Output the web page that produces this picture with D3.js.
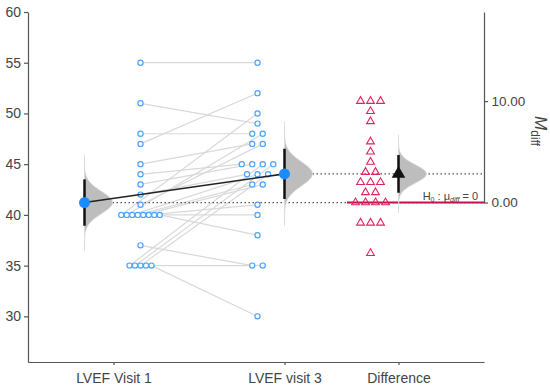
<!DOCTYPE html>
<html>
<head>
<meta charset="utf-8">
<script src="https://cdn.jsdelivr.net/npm/d3@7"></script>
<style>
  body { margin: 0; background: #fff; }
  svg { display: block; font-family: "Liberation Sans", Arial, sans-serif; }
  .axis path, .axis line { stroke: #555; stroke-width: 1.2; }
  .axis text { fill: #444; font-size: 14px; }
</style>
</head>
<body>
<div id="chart"></div>
<script>
// paired LVEF readings, same patient at the same index
const categories = ["LVEF Visit 1", "LVEF visit 3", "Difference"];
const visit1 = [55, 51, 48, 47, 45, 44, 43, 42, 41, 40, 40, 40, 40, 40, 40, 40, 40, 37, 35, 35, 35, 35, 35];
const visit3 = [55, 49, 48, 52, 47, 45, 45, 44, 47, 50, 48, 44, 43, 43, 41, 40, 38, 35, 45, 45, 44, 35, 30];
const yTicks = [30, 35, 40, 45, 50, 55, 60];
const diffTicks = [0, 10];
const tCrit = 2.074; // t(0.975, df = 22)

const width = 550;
const height = 387;

const svg = d3.select("#chart")
    .append("svg")
    .attr("width", width)
    .attr("height", height);

const x = d3.scaleLinear()
    .domain([-0.75, 3.25])
    .range([28, 484]);
const y = d3.scaleLinear()
    .domain([25.5, 60])
    .range([362, 12]);

// category slots on the x axis
const slots = [0, 1.5, 2.5];

const diffs = visit1.map((v, i) => visit3[i] - v);

const stats = (arr) => {
    const m = d3.mean(arr);
    const se = d3.deviation(arr) / Math.sqrt(arr.length);
    return {m, se, lo: m - tCrit * se, hi: m + tCrit * se};
};
const s1 = stats(visit1);
const s3 = stats(visit3);
const sd = stats(diffs);

// difference axis is anchored at the mean of visit 1
const yd = d3.scaleLinear()
    .domain([0, 60 - s1.m])
    .range([y(s1.m), 12]);

// spread equal values sideways
const swarm = (arr, step) => {
    const offs = new Array(arr.length);
    d3.group(d3.range(arr.length), (i) => arr[i]).forEach((idx) => {
        idx.forEach((i, k) => {
            offs[i] = (k - (idx.length - 1) / 2) * step;
        });
    });
    return offs;
};
const off1 = swarm(visit1, 5.5);
const off3 = swarm(visit3, 10.5);
const offD = swarm(diffs, 10);

const cx1 = (i) => x(slots[0]) + 27 + off1[i];
const cx3 = (i) => x(slots[1]) - 27 + off3[i];
const cxD = (i) => x(slots[2]) - 28 + offD[i];
const mx1 = x(slots[0]) - 29;
const mx3 = x(slots[1]);
const mxD = x(slots[2]);

// axes
svg.append("g")
    .attr("class", "axis")
    .attr("transform", `translate(${x.range()[0]},0)`)
    .call(d3.axisLeft(y).tickValues(yTicks).tickSize(4).tickSizeOuter(0).tickPadding(3));

svg.append("g")
    .attr("class", "axis")
    .attr("transform", `translate(0,${y.range()[0]})`)
    .call(d3.axisBottom(x).tickValues(slots).tickFormat((d, i) => categories[i])
        .tickSize(3).tickSizeOuter(0).tickPadding(8));

const right = svg.append("g")
    .attr("class", "axis")
    .attr("transform", `translate(${x.range()[1]},0)`)
    .call(d3.axisRight(yd).tickValues(diffTicks).tickFormat(d3.format(".2f"))
        .tickSize(4).tickSizeOuter(0).tickPadding(3.5));
right.selectAll("text").style("font-size", "13.5px");

const lab = svg.append("text")
    .attr("transform", `translate(535,${yd(10) + 30}) rotate(90)`)
    .attr("text-anchor", "middle")
    .attr("fill", "#444");
lab.append("tspan").text("M").style("font-style", "italic").style("font-size", "17px");
lab.append("tspan").text("diff").attr("dy", 4).style("font-size", "12px");

// paired lines
svg.append("g")
    .selectAll("line")
    .data(visit1)
    .join("line")
    .attr("x1", (d, i) => cx1(i))
    .attr("y1", (d) => y(d))
    .attr("x2", (d, i) => cx3(i))
    .attr("y2", (d, i) => y(visit3[i]))
    .attr("stroke", "#d9d9d9")
    .attr("stroke-width", 1.2);

// reference lines at the means
svg.append("line")
    .attr("x1", mx1).attr("x2", x.range()[1])
    .attr("y1", y(s1.m)).attr("y2", y(s1.m))
    .attr("stroke", "#555").attr("stroke-width", 1.3)
    .attr("stroke-dasharray", "1.5,2.5");
svg.append("line")
    .attr("x1", mx3).attr("x2", x.range()[1])
    .attr("y1", y(s3.m)).attr("y2", y(s3.m))
    .attr("stroke", "#555").attr("stroke-width", 1.3)
    .attr("stroke-dasharray", "1.5,2.5");

// null hypothesis line
svg.append("line")
    .attr("x1", 347).attr("x2", x.range()[1])
    .attr("y1", yd(0)).attr("y2", yd(0))
    .attr("stroke", "#c2134d").attr("stroke-width", 2);

const h0 = svg.append("text")
    .attr("x", 478)
    .attr("y", yd(0) - 3)
    .attr("text-anchor", "end")
    .attr("fill", "#444")
    .style("font-size", "11px");
h0.append("tspan").text("H");
h0.append("tspan").text("0").attr("dy", 2).style("font-size", "7px");
h0.append("tspan").text(" : μ").attr("dy", -2);
h0.append("tspan").text("diff").attr("dy", 2).style("font-size", "7px").style("font-style", "italic");
h0.append("tspan").text(" = 0").attr("dy", -2);

// sampling distributions
const curve = (xc, ys, st) => {
    const zs = d3.range(-4.3, 4.31, 0.1);
    const area = d3.area()
        .curve(d3.curveBasis)
        .y((z) => ys(st.m + z * st.se))
        .x0(xc)
        .x1((z) => xc + 28 * Math.exp(-z * z / 2));
    svg.append("path")
        .datum(zs)
        .attr("d", area)
        .attr("fill", "#bdbdbd")
        .attr("stroke", "#dadada")
        .attr("stroke-width", 0.8);
};
curve(mx1, y, s1);
curve(mx3, y, s3);
curve(mxD, yd, sd);

// data points
svg.append("g")
    .selectAll("circle")
    .data(visit1)
    .join("circle")
    .attr("cx", (d, i) => cx1(i))
    .attr("cy", (d) => y(d))
    .attr("r", 2.6)
    .attr("fill", "#fff")
    .attr("stroke", "#4aa3ff")
    .attr("stroke-width", 1.2);

svg.append("g")
    .selectAll("circle")
    .data(visit3)
    .join("circle")
    .attr("cx", (d, i) => cx3(i))
    .attr("cy", (d) => y(d))
    .attr("r", 2.6)
    .attr("fill", "#fff")
    .attr("stroke", "#4aa3ff")
    .attr("stroke-width", 1.2);

svg.append("g")
    .selectAll("path")
    .data(diffs)
    .join("path")
    .attr("transform", (d, i) => `translate(${cxD(i)},${yd(d)})`)
    .attr("d", d3.symbol(d3.symbolTriangle, 26))
    .attr("fill", "none")
    .attr("stroke", "#e0245e")
    .attr("stroke-width", 1.1);

// means with confidence intervals
svg.append("line")
    .attr("x1", mx1).attr("y1", y(s1.m))
    .attr("x2", mx3).attr("y2", y(s3.m))
    .attr("stroke", "#222").attr("stroke-width", 1.6);

[[mx1, y, s1], [mx3, y, s3], [mxD, yd, sd]].forEach(([xc, ys, st]) => {
    svg.append("line")
        .attr("x1", xc).attr("x2", xc)
        .attr("y1", ys(st.lo)).attr("y2", ys(st.hi))
        .attr("stroke", "#111").attr("stroke-width", 2.5);
});

svg.append("g")
    .selectAll("circle")
    .data([[mx1, s1], [mx3, s3]])
    .join("circle")
    .attr("cx", (d) => d[0])
    .attr("cy", (d) => y(d[1].m))
    .attr("r", 5.5)
    .attr("fill", "#1a8cff");

svg.append("path")
    .attr("transform", `translate(${mxD},${yd(sd.m)})`)
    .attr("d", d3.symbol(d3.symbolTriangle, 80))
    .attr("fill", "#111");
</script>
</body>
</html>
